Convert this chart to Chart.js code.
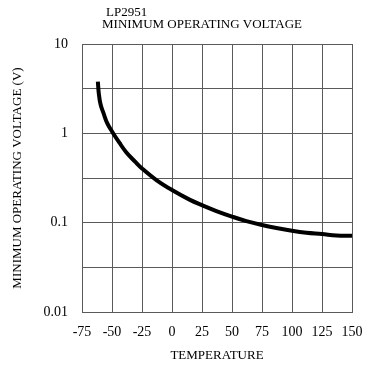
<!DOCTYPE html>
<html>
<head>
<meta charset="utf-8">
<script src="https://cdn.jsdelivr.net/npm/chart.js@4"></script>
<style>
  html, body { margin: 0; padding: 0; background: #fff; }
  #wrap { width: 370px; height: 366px; position: relative; }
</style>
</head>
<body>
<div id="wrap"><canvas id="chart"></canvas></div>
<script>
// values
const temps = [-61.8, -61, -59.5, -57, -54, -50, -44, -38, -31, -25, -13, 0, 15, 25, 37, 50, 62, 75, 87, 100, 112, 125, 137, 150];
const voltage = [3.8, 2.8, 2.1, 1.67, 1.3, 1.05, 0.79, 0.61, 0.486, 0.405, 0.3, 0.232, 0.18, 0.157, 0.135, 0.117, 0.104, 0.094, 0.087, 0.081, 0.077, 0.0746, 0.072, 0.0715];
const yTicks = [0.01, 0.0316, 0.1, 0.316, 1, 3.16, 10];
const yLabels = ['0.01', '', '0.1', '', '1', '', '10'];
const titleLines = ['LP2951', 'MINIMUM OPERATING VOLTAGE'];

const serif = "'Liberation Serif', 'Times New Roman', serif";
const gridColor = '#5a5a5a';

const headerPlugin = {
    id: 'header',
    afterDraw(chart) {
        const c = chart.ctx;
        c.save();
        c.fillStyle = '#000';
        c.font = '13px ' + serif;
        c.textBaseline = 'middle';
        c.textAlign = 'left';
        c.fillText(titleLines[0], 106, 13);
        c.fillText(titleLines[1], 102, 25);
        c.restore();
    }
};

const ctx = document.getElementById('chart').getContext('2d');
const chart = new Chart(ctx, {
    type: 'line',
    data: {
        datasets: [{
            data: temps.map((t, i) => ({ x: t, y: voltage[i] })),
            borderColor: '#000',
            borderWidth: 4,
            pointRadius: 0,
            fill: false,
            tension: 0.4
        }]
    },
    options: {
        responsive: true,
        maintainAspectRatio: false,
        animation: false,
        layout: { padding: { top: 44, right: 18, bottom: 0, left: 0 } },
        plugins: { legend: { display: false }, tooltip: { enabled: false } },
        scales: {
            x: {
                type: 'linear',
                min: -75,
                max: 150,
                afterFit: s => { s.height = 54; s.paddingLeft = 0; s.paddingRight = 0; },
                ticks: { stepSize: 25, color: '#000', padding: 12, maxRotation: 0, font: { family: serif, size: 14 } },
                grid: { color: gridColor, drawTicks: false },
                border: { color: gridColor },
                title: { display: true, text: 'TEMPERATURE', color: '#000', font: { family: serif, size: 13 }, padding: { top: 0, bottom: 3 } }
            },
            y: {
                type: 'logarithmic',
                min: 0.01,
                max: 10,
                afterFit: s => { s.width = 82; s.paddingTop = 0; s.paddingBottom = 0; },
                afterBuildTicks: s => { s.ticks = yTicks.map(v => ({ value: v })); },
                ticks: {
                    color: '#000',
                    padding: 14,
                    autoSkip: false,
                    font: { family: serif, size: 14 },
                    callback: (v, i) => yLabels[i]
                },
                grid: { color: gridColor, drawTicks: false },
                border: { color: gridColor },
                title: { display: true, text: 'MINIMUM OPERATING VOLTAGE (V)', color: '#000', font: { family: serif, size: 13 }, padding: { top: 10, bottom: 0 } }
            }
        }
    },
    plugins: [headerPlugin]
});
</script>
</body>
</html>
